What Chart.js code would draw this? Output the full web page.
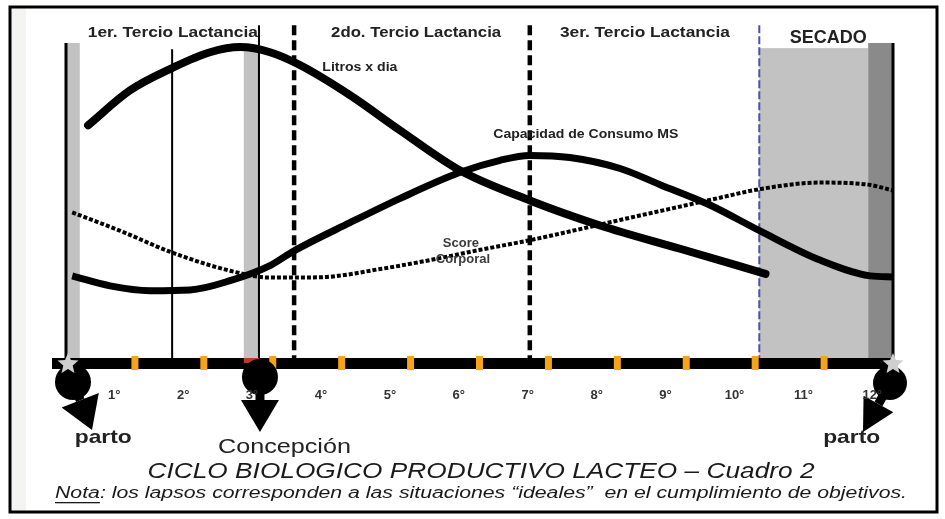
<!DOCTYPE html>
<html>
<head>
<meta charset="utf-8">
<script src="https://cdn.jsdelivr.net/npm/chart.js@4/dist/chart.umd.min.js"></script>
<style>
  body { margin: 0; background: #fff; }
  #ciclo { display: block; }
</style>
</head>
<body>
<canvas id="ciclo" width="945" height="519"></canvas>
<script>
// months since calving (0 = parto, 12 = next parto), values on a 0-100 relative scale
const litrosMes = [0.32, 0.93, 1.54, 2.09, 2.53, 2.96, 3.40, 4.12, 4.85, 5.72, 6.73, 7.75, 8.91, 10.15];
const litrosVal = [69.3, 79.5, 86.0, 90.6, 92.1, 90.6, 86.8, 78.1, 67.8, 56.1, 47.4, 40.1, 33.3, 26.0];

const consumoMes = [0.09, 0.64, 1.22, 1.80, 2.38, 2.96, 3.31, 4.12, 4.85, 5.72, 6.30, 6.73, 7.31, 8.04, 8.62, 9.35, 10.07, 10.94, 11.67, 12.0];
const consumoVal = [25.4, 22.5, 21.1, 21.3, 24.0, 28.4, 32.7, 40.9, 48.0, 55.6, 59.1, 60.5, 59.9, 56.7, 52.0, 46.0, 38.5, 30.0, 25.4, 25.1];

const scoreMes = [0.09, 0.78, 1.54, 2.38, 2.96, 3.69, 4.56, 5.28, 6.01, 6.73, 7.56, 8.04, 8.91, 9.49, 10.07, 10.94, 11.64, 12.0];
const scoreVal = [43.9, 38.6, 32.2, 26.9, 24.9, 25.0, 27.4, 30.0, 33.0, 35.8, 39.5, 41.7, 45.6, 48.2, 50.7, 52.6, 52.0, 50.3];

const meses = ['1°', '2°', '3°', '4°', '5°', '6°', '7°', '8°', '9°', '10°', '11°', '12°'];
const marcas = [1, 2, 3, 4, 5, 6, 7, 8, 9, 10, 11];
const tercios = ['1er. Tercio Lactancia', '2do. Tercio Lactancia', '3er. Tercio Lactancia'];
const terciosMes = [1.55, 5.08, 8.4];
const limitesTercio = [3.31, 6.73];
const inicioSecado = 10.06;
const concepcionMes = 2.8;

const pts = (xs, ys) => xs.map((m, i) => ({ x: m, y: ys[i] }));
const FONT = '"Liberation Sans", Arial, sans-serif';

function star(ctx, cx, cy, r) {
  ctx.beginPath();
  for (let i = 0; i < 10; i++) {
    const a = -Math.PI / 2 + i * Math.PI / 5;
    const rr = i % 2 ? r * 0.45 : r;
    ctx.lineTo(cx + rr * Math.cos(a), cy + rr * Math.sin(a));
  }
  ctx.closePath();
  ctx.fill();
}

// ball with an arrow pointing to (tx, ty)
function marker(ctx, cx, cy, r, tx, ty, half) {
  const L = Math.hypot(tx - cx, ty - cy);
  const ux = (tx - cx) / L, uy = (ty - cy) / L;
  const bx = tx - ux * 32, by = ty - uy * 32;
  ctx.fillStyle = '#000';
  ctx.beginPath();
  ctx.arc(cx, cy, r, 0, Math.PI * 2);
  ctx.fill();
  ctx.strokeStyle = '#000';
  ctx.lineWidth = 9;
  ctx.beginPath();
  ctx.moveTo(cx, cy);
  ctx.lineTo(bx, by);
  ctx.stroke();
  ctx.beginPath();
  ctx.moveTo(bx - uy * half, by + ux * half);
  ctx.lineTo(bx + uy * half, by - ux * half);
  ctx.lineTo(tx, ty);
  ctx.closePath();
  ctx.fill();
}

// the scanned lettering is wider than the font: stretch horizontally to a width
function wideText(ctx, t, px, py, width) {
  const w = ctx.measureText(t).width;
  ctx.save();
  ctx.translate(px, py);
  ctx.scale(width / w, 1);
  ctx.fillText(t, 0, 0);
  ctx.restore();
}

const decor = {
  id: 'decor',
  beforeDatasetsDraw(chart) {
    const { ctx, scales: { x, y } } = chart;
    const X = v => x.getPixelForValue(v), Y = v => y.getPixelForValue(v);
    ctx.save();
    // frame
    ctx.fillStyle = '#f4f4f2';
    ctx.fillRect(10, 7, 16, 505);
    ctx.strokeStyle = '#000';
    ctx.lineWidth = 3;
    ctx.strokeRect(10, 7, 927, 505);

    // shaded bands
    ctx.fillStyle = '#c2c2c2';
    ctx.fillRect(X(0), Y(93.3), X(0.2) - X(0), Y(0) - Y(93.3));
    ctx.fillRect(X(2.58), Y(92), X(concepcionMes) - X(2.58), Y(0) - Y(92));
    ctx.fillRect(X(inicioSecado), Y(91.8), X(11.64) - X(inicioSecado), Y(0) - Y(91.8));
    ctx.fillStyle = '#8a8a8a';
    ctx.fillRect(X(11.64), Y(93.3), X(12) - X(11.64), Y(0) - Y(93.3));

    // solid verticals
    ctx.strokeStyle = '#000';
    const vline = (m, top, w) => {
      ctx.lineWidth = w;
      ctx.beginPath();
      ctx.moveTo(X(m), Y(top));
      ctx.lineTo(X(m), Y(0));
      ctx.stroke();
    };
    vline(0, 93.3, 3);
    vline(1.54, 91.5, 2);
    vline(concepcionMes, 98.5, 2);
    vline(12, 93.3, 3);

    // dashed limits
    ctx.setLineDash([10, 5]);
    limitesTercio.forEach(m => vline(m, 98.5, 4.5));
    ctx.strokeStyle = '#4f4fa6';
    ctx.setLineDash([8, 3]);
    vline(inicioSecado, 98.5, 2);
    ctx.restore();
  },
  afterDatasetsDraw(chart) {
    const { ctx, scales: { x, y } } = chart;
    const X = v => x.getPixelForValue(v), Y = v => y.getPixelForValue(v);
    const y0 = Y(0);
    ctx.save();
    // timeline bar
    ctx.fillStyle = '#000';
    ctx.fillRect(X(0) - 14, y0 - 5, X(12) - X(0) + 16, 11);
    ctx.fillStyle = '#c0392b';
    ctx.fillRect(X(2.58), y0 - 5, X(concepcionMes) - X(2.58), 5);
    ctx.fillStyle = '#f5a31a';
    marcas.forEach(m => ctx.fillRect(X(m) - 3.5, y0 - 7, 7, 14));

    // markers
    const xl = X(0), xc = X(concepcionMes), xr = X(12);
    marker(ctx, xl + 7, y0 + 19, 18, xl + 26, y0 + 67, 20);
    marker(ctx, xc + 1, y0 + 14, 18, xc + 1, y0 + 69, 19);
    marker(ctx, xr - 3, y0 + 20, 17, xr - 30, y0 + 69, 17);
    ctx.fillStyle = '#cfcfcf';
    star(ctx, xl + 2, y0 + 1, 11);
    star(ctx, xr, y0 + 1, 11);

    // month labels
    ctx.fillStyle = '#333';
    ctx.font = 'bold 13px ' + FONT;
    ctx.textAlign = 'center';
    ctx.textBaseline = 'middle';
    meses.forEach((t, i) => ctx.fillText(t, X(i + 1 - 0.3), y0 + 32));

    // period labels
    ctx.fillStyle = '#222';
    ctx.font = 'bold 14px ' + FONT;
    tercios.forEach((t, i) => wideText(ctx, t, X(terciosMes[i]), Y(96.2), 170));
    ctx.font = 'bold 18px ' + FONT;
    ctx.fillText('SECADO', X(11.06), Y(94.8));

    // curve labels
    ctx.font = 'bold 12px ' + FONT;
    ctx.textAlign = 'left';
    wideText(ctx, 'Litros x dia', X(3.72), Y(86), 75);
    wideText(ctx, 'Capacidad de Consumo MS', X(6.2), Y(66.5), 185);
    ctx.textAlign = 'center';
    ctx.fillStyle = '#3a3a3a';
    ctx.font = 'bold 13px ' + FONT;
    ctx.fillText('Score', X(5.73), Y(35));
    ctx.fillText('Corporal', X(5.76), Y(30.3));

    // event labels
    ctx.fillStyle = '#222';
    ctx.font = 'bold 19px ' + FONT;
    wideText(ctx, 'parto', X(0.54), y0 + 75, 57);
    wideText(ctx, 'parto', X(11.4), y0 + 75, 57);
    ctx.font = '20px ' + FONT;
    wideText(ctx, 'Concepción', X(3.17), y0 + 84, 133);

    // titles
    ctx.fillStyle = '#1a1a1a';
    ctx.font = 'italic 22px ' + FONT;
    wideText(ctx, 'CICLO BIOLOGICO PRODUCTIVO LACTEO – Cuadro 2', 481, 472, 667);
    ctx.font = 'italic 16px ' + FONT;
    ctx.textAlign = 'left';
    const nota = 'Nota';
    const resto = ': los lapsos corresponden a las situaciones “ideales”  en el cumplimiento de objetivos.';
    const k = 852 / ctx.measureText(nota + resto).width;
    const wN = ctx.measureText(nota).width;
    ctx.save();
    ctx.translate(55, 494);
    ctx.scale(k, 1);
    ctx.fillText(nota + resto, 0, 0);
    ctx.fillRect(0, 8, wN, 1.3);
    ctx.restore();
    ctx.restore();
  }
};

new Chart(document.getElementById('ciclo'), {
  type: 'line',
  data: {
    datasets: [{
      label: 'Litros x dia',
      data: pts(litrosMes, litrosVal),
      borderColor: '#000',
      borderWidth: 8,
      borderCapStyle: 'round',
      cubicInterpolationMode: 'monotone',
      pointRadius: 0,
      clip: false
    }, {
      label: 'Capacidad de Consumo MS',
      data: pts(consumoMes, consumoVal),
      borderColor: '#000',
      borderWidth: 7,
      cubicInterpolationMode: 'monotone',
      pointRadius: 0,
      clip: false
    }, {
      label: 'Score Corporal',
      data: pts(scoreMes, scoreVal),
      borderColor: '#000',
      borderWidth: 4,
      borderDash: [4, 2],
      cubicInterpolationMode: 'monotone',
      pointRadius: 0,
      clip: false
    }]
  },
  options: {
    responsive: false,
    animation: false,
    events: [],
    layout: { padding: { left: 66, right: 52, top: 20, bottom: 156 } },
    scales: {
      x: { type: 'linear', min: 0, max: 12, display: false },
      y: { min: 0, max: 100, display: false }
    },
    plugins: {
      legend: { display: false },
      tooltip: { enabled: false }
    }
  },
  plugins: [decor]
});
</script>
</body>
</html>
